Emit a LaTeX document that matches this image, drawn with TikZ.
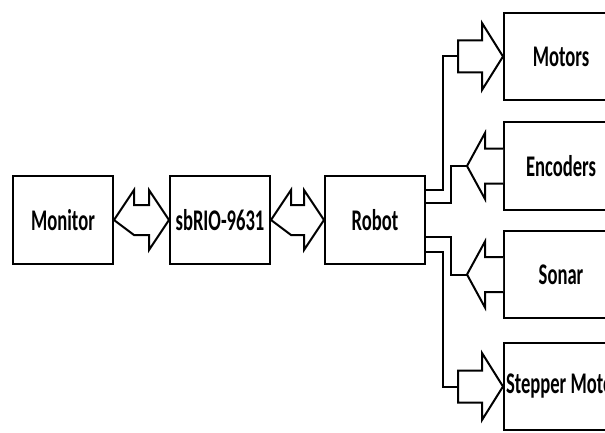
\documentclass[tikz,border=0pt]{standalone}
\usepackage{fontspec}
\setmainfont{Carlito}[FakeStretch=0.62]
\usetikzlibrary{positioning, calc}

\tikzset{
  box/.style={draw, line width=2pt, minimum width=100pt, minimum height=88pt,
              inner xsep=2pt, font=\fontsize{30}{30}\selectfont\bfseries},
  part/.style={box, anchor=west, minimum width=114pt, minimum height=87pt},
  fat/.style={draw, line width=2pt, line join=miter, fill=white},
  wire/.style={line width=2pt},
  % block arrow pointing right, tip at the pic origin
  rblock/.pic={
    \draw[fat] (0,0) -- (-21,33.5) -- (-21,16) -- (-45,16) -- (-45,-16)
               -- (-21,-16) -- (-21,-33.5) -- cycle;
    \coordinate (-tail) at (-45,0);
  },
  % block arrow pointing left, tail at the pic origin
  lblock/.pic={
    \draw[fat] (0,17.5) -- (-18,17.5) -- (-18,33) -- (-36,0) -- (-18,-33)
               -- (-18,-17.5) -- (0,-17.5);
    \coordinate (-tip) at (-36,0);
  }
}

\begin{document}
\begin{tikzpicture}[x=1pt, y=1pt]
  \useasboundingbox (0,0) rectangle (605,432);
  \clip (0,0) rectangle (605,432);

  \node[box] (monitor) at (63,212) {Monitor};
  \node[box, right=55pt of monitor] (sbrio) {sbRIO-9631};
  \node[box, right=53pt of sbrio] (robot) {Robot};

  \node[part] (motors) at (503,375.5) {Motors};
  \node[part] (encoders) at (503,266) {Encoders};
  \node[part] (sonar) at (503,157.5) {Sonar};
  \node[part] (stepper) at (503,45.5) {Stepper Motor};

  % double block arrows
  \draw[fat] (monitor.east) -- ++(20,30) |- ($(sbrio.west)+(-20,15)$) -- ++(0,15)
    -- (sbrio.west) -- ++(-20,-30) |- ($(monitor.east)+(20,-15)$) -- cycle;
  \draw[fat] (sbrio.east) -- ++(20,30) |- ($(robot.west)+(-20,15)$) -- ++(0,15)
    -- (robot.west) -- ++(-20,-30) |- ($(sbrio.east)+(20,-15)$) -- cycle;

  \pic (m) at (motors.west) {rblock};
  \pic (e) at (encoders.west) {lblock};
  \pic (s) at (sonar.west) {lblock};
  \pic (p) at (stepper.west) {rblock};

  \draw[wire] ([yshift=30pt]robot.east) -- ++(17,0) |- (m-tail);
  \draw[wire] ([yshift=17pt]robot.east) -- ++(25,0) |- (e-tip);
  \draw[wire] ([yshift=-17pt]robot.east) -- ++(25,0) |- (s-tip);
  \draw[wire] ([yshift=-32pt]robot.east) -- ++(17,0) |- (p-tail);
\end{tikzpicture}
\end{document}
